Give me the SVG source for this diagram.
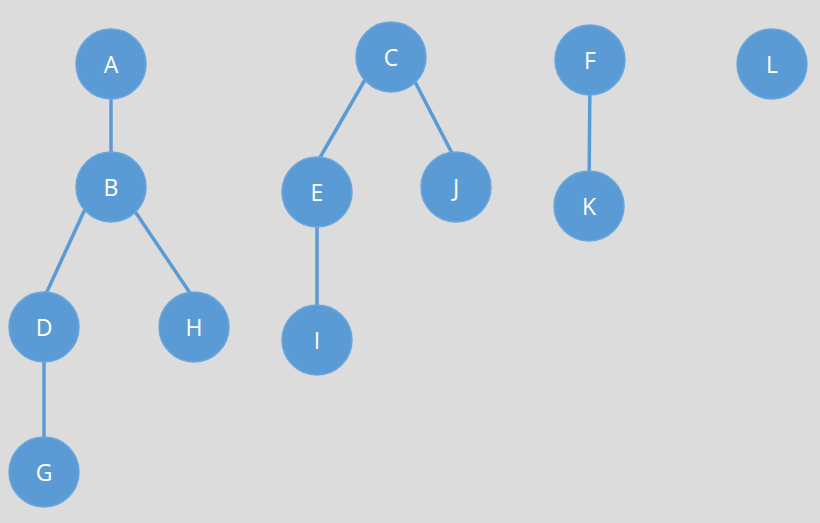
<svg xmlns="http://www.w3.org/2000/svg" width="820" height="523" viewBox="0 0 820 523">
<style>
.n circle{fill:#5b9bd5;stroke:#6aa6db;stroke-width:1.5}
.n text{fill:#ffffff;font-family:"Open Sans","Liberation Sans",sans-serif;font-size:23px;text-anchor:middle;dominant-baseline:central}
#edges line{stroke:#5b9bd5;stroke-width:3.5}
</style>
<rect width="820" height="523" fill="#dcdcdc"/>
<g id="edges">
<line x1="111" y1="80" x2="111" y2="170"/>
<line x1="86" y1="207" x2="45" y2="296"/>
<line x1="132" y1="207" x2="192" y2="296"/>
<line x1="44" y1="340" x2="44" y2="460"/>
<line x1="366" y1="78" x2="318" y2="161"/>
<line x1="413" y1="78" x2="454" y2="157"/>
<line x1="317" y1="205" x2="317" y2="328"/>
<line x1="590" y1="75" x2="589" y2="190"/>
</g>
<g id="A" class="n"><circle cx="111" cy="64" r="35"/><text x="111" y="64">A</text></g>
<g id="B" class="n"><circle cx="111" cy="187" r="35"/><text x="111" y="187">B</text></g>
<g id="D" class="n"><circle cx="44" cy="327" r="35"/><text x="44" y="327">D</text></g>
<g id="H" class="n"><circle cx="194" cy="327" r="35"/><text x="194" y="327">H</text></g>
<g id="G" class="n"><circle cx="44" cy="472" r="35"/><text x="44" y="472">G</text></g>
<g id="C" class="n"><circle cx="391" cy="57" r="35"/><text x="391" y="57">C</text></g>
<g id="E" class="n"><circle cx="317" cy="192" r="35"/><text x="317" y="192">E</text></g>
<g id="J" class="n"><circle cx="456" cy="187" r="35"/><text x="456" y="187">J</text></g>
<g id="I" class="n"><circle cx="317" cy="340" r="35"/><text x="317" y="340">I</text></g>
<g id="F" class="n"><circle cx="590" cy="60" r="35"/><text x="590" y="60">F</text></g>
<g id="K" class="n"><circle cx="589" cy="206" r="35"/><text x="589" y="206">K</text></g>
<g id="L" class="n"><circle cx="772" cy="64" r="35"/><text x="772" y="64">L</text></g>
</svg>
